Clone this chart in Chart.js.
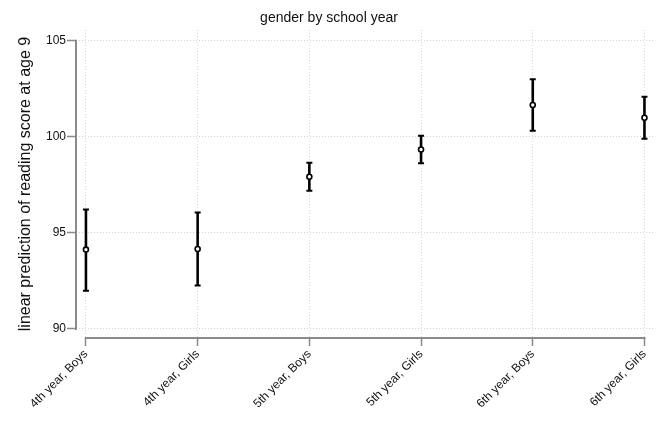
<!DOCTYPE html>
<html>
<head>
<meta charset="utf-8">
<script src="https://cdn.jsdelivr.net/npm/chart.js@4"></script>
<style>
  html, body { margin: 0; padding: 0; background: #fff; }
  #wrap { width: 660px; height: 422px; }
</style>
</head>
<body>
<div id="wrap"><canvas id="chart"></canvas></div>
<script>
// data
const categories = ['4th year, Boys', '4th year, Girls', '5th year, Boys', '5th year, Girls', '6th year, Boys', '6th year, Girls'];
const margins = [94.13, 94.16, 97.92, 99.34, 101.66, 100.99];
const ciLow = [91.99, 92.26, 97.20, 98.62, 100.32, 99.90];
const ciHigh = [96.22, 96.06, 98.65, 100.06, 103.00, 102.08];
const yTicks = [90, 95, 100, 105];

const FONT = '"Liberation Sans", Arial, Helvetica, sans-serif';
const AXIS_GRAY = '#8a8a8a';

// error bars + axis lines (stata style, detached axes)
const stataPlugin = {
    id: 'stata',
    beforeDatasetsDraw(chart) {
        const ctx = chart.ctx;
        const xs = chart.scales.x;
        const ys = chart.scales.y;
        const area = chart.chartArea;
        ctx.save();
        ctx.strokeStyle = AXIS_GRAY;
        ctx.lineWidth = 2;
        ctx.setLineDash([]);
        // y axis line
        ctx.beginPath();
        ctx.moveTo(area.left, ys.getPixelForValue(yTicks[yTicks.length - 1]) - 1);
        ctx.lineTo(area.left, ys.getPixelForValue(yTicks[0]) + 1);
        ctx.stroke();
        // x axis line
        ctx.beginPath();
        ctx.moveTo(xs.getPixelForValue(0) - 1, area.bottom);
        ctx.lineTo(xs.getPixelForValue(categories.length - 1) + 1, area.bottom);
        ctx.stroke();

        // ci bars
        ctx.strokeStyle = '#000';
        for (let i = 0; i < categories.length; i++) {
            const px = xs.getPixelForValue(i);
            const top = ys.getPixelForValue(ciHigh[i]);
            const bot = ys.getPixelForValue(ciLow[i]);
            ctx.lineWidth = 2.6;
            ctx.beginPath();
            ctx.moveTo(px, top);
            ctx.lineTo(px, bot);
            ctx.stroke();
            ctx.lineWidth = 2;
            ctx.beginPath();
            ctx.moveTo(px - 3, top);
            ctx.lineTo(px + 3, top);
            ctx.moveTo(px - 3, bot);
            ctx.lineTo(px + 3, bot);
            ctx.stroke();
        }
        ctx.restore();
    }
};

const ctx = document.getElementById('chart').getContext('2d');
const chart = new Chart(ctx, {
    type: 'scatter',
    data: {
        datasets: [{
            data: margins.map((v, i) => ({ x: i, y: v })),
            pointRadius: 2.5,
            pointBorderWidth: 1.6,
            pointBorderColor: '#000',
            pointBackgroundColor: '#fff',
            showLine: false
        }]
    },
    options: {
        responsive: true,
        maintainAspectRatio: false,
        animation: false,
        layout: { padding: { left: 0, right: 2, top: 0, bottom: 0 } },
        plugins: {
            legend: { display: false },
            tooltip: { enabled: false },
            title: {
                display: true,
                text: 'gender by school year',
                color: '#111',
                font: { family: FONT, size: 14, weight: 'normal', lineHeight: 1.2 },
                padding: { top: 9.6, bottom: 3.6 }
            }
        },
        scales: {
            x: {
                type: 'linear',
                min: -0.089,
                max: 5.089,
                afterBuildTicks: s => { s.ticks = categories.map((c, i) => ({ value: i })); },
                afterFit: s => {
                    s.height = 84;
                    // no extra room for the rotated labels, the y axis covers it
                    s.paddingLeft = 0;
                    s.paddingRight = 0;
                },
                ticks: {
                    autoSkip: false,
                    maxRotation: 45,
                    minRotation: 45,
                    padding: 1,
                    color: '#111',
                    font: { family: FONT, size: 12 },
                    callback: v => categories[v]
                },
                grid: {
                    color: '#d4d4d4',
                    lineWidth: 1,
                    tickColor: AXIS_GRAY,
                    tickWidth: 1.5,
                    tickLength: 8
                },
                border: { display: false, dash: [1, 2] }
            },
            y: {
                min: 89.53,
                max: 105.56,
                afterBuildTicks: s => { s.ticks = yTicks.map(v => ({ value: v })); },
                afterFit: s => { s.width = 76; },
                ticks: {
                    padding: 1,
                    color: '#111',
                    font: { family: FONT, size: 12 }
                },
                grid: {
                    color: '#d4d4d4',
                    lineWidth: 1,
                    tickColor: AXIS_GRAY,
                    tickWidth: 1.5,
                    tickLength: 9
                },
                border: { display: false, dash: [1, 2] },
                title: {
                    display: true,
                    text: 'linear prediction of reading score at age 9',
                    color: '#111',
                    font: { family: FONT, size: 16, lineHeight: 1.2 },
                    padding: { top: 16, bottom: 0 }
                }
            }
        }
    },
    plugins: [stataPlugin]
});
</script>
</body>
</html>
